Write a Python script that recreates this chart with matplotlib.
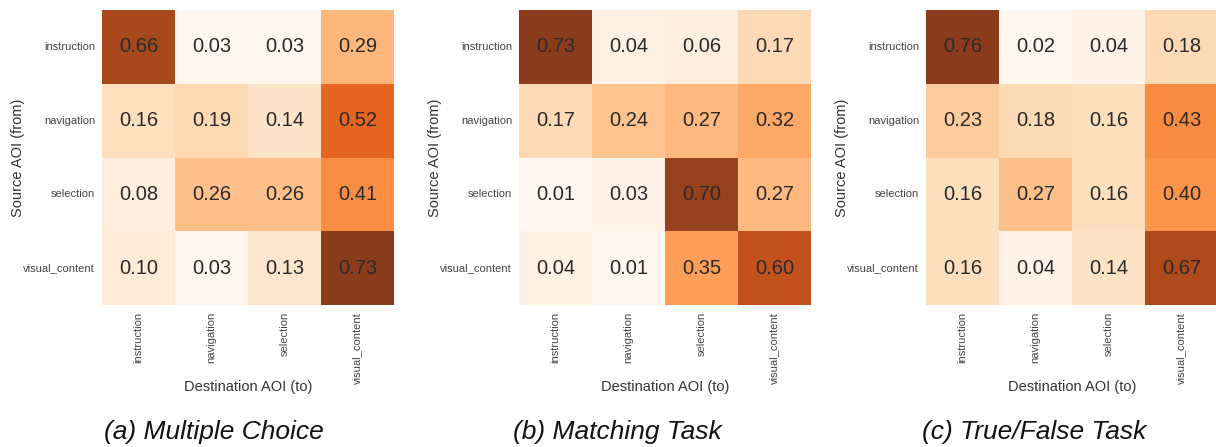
import matplotlib
matplotlib.use("Agg")
import matplotlib.pyplot as plt
import seaborn as sns
import numpy as np

aois = ["instruction", "navigation", "selection", "visual_content"]

multiple_choice = [[0.66, 0.03, 0.03, 0.29],
                   [0.16, 0.19, 0.14, 0.52],
                   [0.08, 0.26, 0.26, 0.41],
                   [0.10, 0.03, 0.13, 0.73]]

matching_task = [[0.73, 0.04, 0.06, 0.17],
                 [0.17, 0.24, 0.27, 0.32],
                 [0.01, 0.03, 0.70, 0.27],
                 [0.04, 0.01, 0.35, 0.60]]

true_false_task = [[0.76, 0.02, 0.04, 0.18],
                   [0.23, 0.18, 0.16, 0.43],
                   [0.16, 0.27, 0.16, 0.40],
                   [0.16, 0.04, 0.14, 0.67]]

captions = ["(a) Multiple Choice", "(b) Matching Task", "(c) True/False Task"]

plt.rcParams['font.family'] = ['Liberation Sans', 'DejaVu Sans']

W, H = 1216, 447
fig = plt.figure(figsize=(W / 100, H / 100), dpi=100)

# panel layout in pixels
lefts = [102, 519, 926]
cap_x = [214, 617, 1034]
ax_w, top, bottom = 292, 10, 305

for i, data in enumerate([multiple_choice, matching_task, true_false_task]):
    ax = fig.add_axes([lefts[i] / W, 1 - bottom / H, ax_w / W, (bottom - top) / H])
    sns.heatmap(np.array(data), ax=ax, cmap="Oranges", alpha=0.9, cbar=False,
                annot=True, fmt=".2f", xticklabels=aois, yticklabels=aois,
                annot_kws={"color": "#2a2a2a", "fontsize": 14.5})
    ax.tick_params(length=0, labelsize=8, labelcolor="#444444", pad=5)
    plt.setp(ax.get_xticklabels(), rotation=90)
    plt.setp(ax.get_yticklabels(), rotation=0)
    ax.set_xlabel("Destination AOI (to)", fontsize=10.5, color="#333333")
    ax.set_ylabel("Source AOI (from)", fontsize=10.5, color="#333333")
    ax.xaxis.set_label_coords(0.5, -0.255)
    ax.yaxis.set_label_coords(-0.262, 0.5)
    fig.text(cap_x[i] / W, 1 - 432 / H, captions[i], fontsize=19, style="italic",
             ha="center", va="center", color="#111111")

fig.savefig("out.png", dpi=100)
